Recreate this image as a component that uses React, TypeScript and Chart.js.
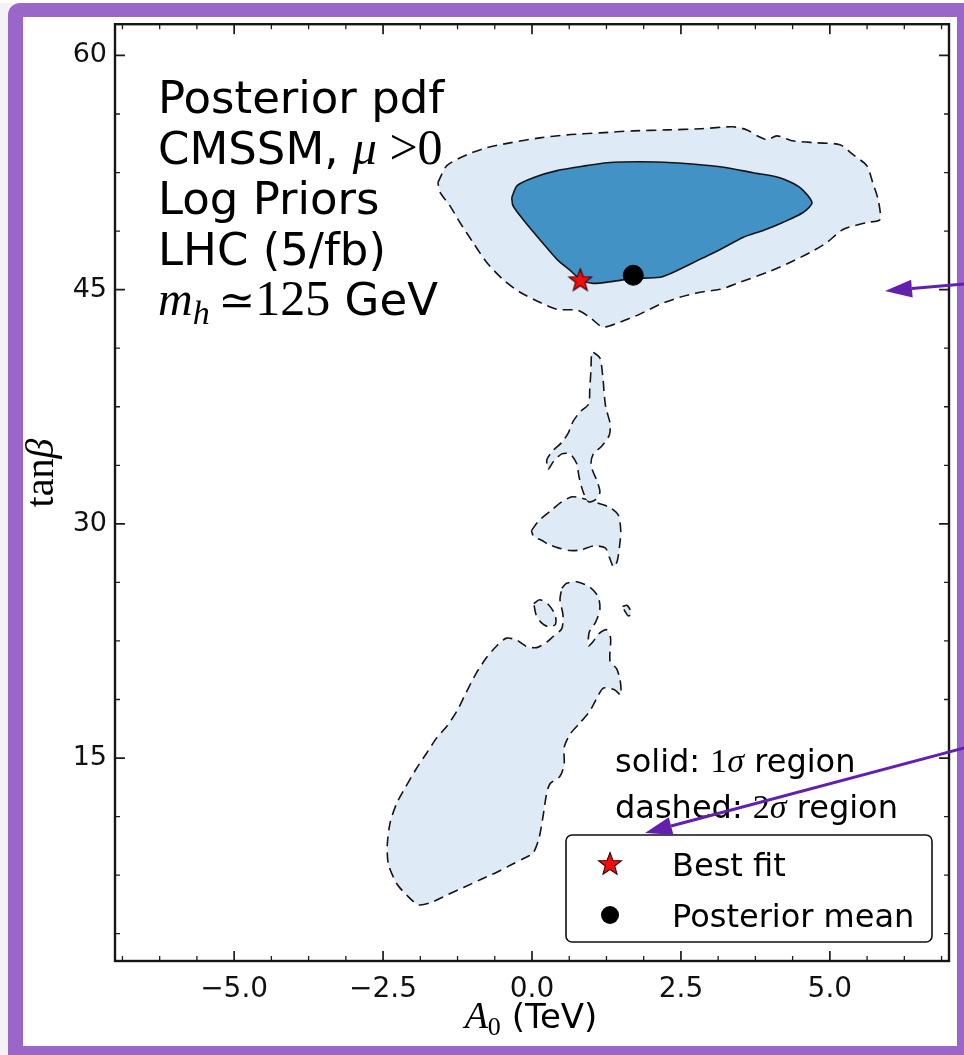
import React, { useEffect, useRef } from "react";
import { Chart, registerables } from "chart.js";

Chart.register(...registerables);

// ---------- axes ----------
const X_RANGE = [-7, 7];
const Y_RANGE = [2, 62];
const X_TICKS = [-5, -2.5, 0, 2.5, 5];
const X_MINOR = [-6.875, -6.25, -5.625, -4.375, -3.75, -3.125, -1.875, -1.25, -0.625, 0.625, 1.25, 1.875, 3.125, 3.75, 4.375, 5.625, 6.25, 6.875];
const Y_TICKS = [15, 30, 45, 60];
const Y_MINOR = [3.75, 7.5, 11.25, 18.75, 22.5, 26.25, 33.75, 37.5, 41.25, 48.75, 52.5, 56.25];

// ---------- contours (A0 [TeV], tan beta) ----------
// 2 sigma region, high tan beta mode
const OUTER_TOP: [number, number][] = [
  [-1.58, 51.85], [-1.43, 52.94], [-1.09, 53.64], [-0.76, 54.09], [-0.37, 54.4], [0.13, 54.72],
  [0.59, 54.91], [1.14, 55.04], [1.7, 55.17], [2.27, 55.23], [2.82, 55.3], [3.37, 55.43],
  [3.61, 55.23], [3.78, 54.85], [3.95, 54.6], [4.11, 54.85], [4.38, 54.53], [4.78, 54.4],
  [5.17, 54.28], [5.39, 53.64], [5.62, 52.94], [5.72, 51.85], [5.81, 50.77], [5.84, 49.49],
  [5.62, 49.3], [5.22, 48.85], [4.95, 48.02], [4.67, 47.38], [4.33, 46.74], [3.95, 46.11],
  [3.49, 45.47], [3.16, 45.02], [2.82, 44.83], [2.48, 44.51], [2.15, 44.06], [1.81, 43.43],
  [1.48, 42.92], [1.19, 42.6], [0.97, 43.23], [0.76, 43.68], [0.42, 43.74], [0.13, 44.19],
  [-0.2, 44.83], [-0.49, 45.66], [-0.76, 46.74], [-0.99, 48.02], [-1.21, 49.3], [-1.38, 50.38],
  [-1.54, 51.21],
];
// 1 sigma region
const INNER_TOP: [number, number][] = [
  [-0.34, 50.89], [-0.25, 51.66], [0.02, 52.17], [0.42, 52.62], [0.92, 52.94], [1.26, 53.13],
  [1.81, 53.19], [2.37, 53.13], [2.82, 53.0], [3.27, 52.81], [3.71, 52.49], [4.16, 52.17],
  [4.5, 51.53], [4.7, 50.57], [4.55, 49.94], [4.21, 49.3], [3.88, 48.79], [3.54, 48.34],
  [3.16, 47.57], [2.82, 46.94], [2.48, 46.3], [2.15, 45.79], [1.7, 45.72], [1.36, 45.53],
  [1.02, 45.4], [0.81, 45.66], [0.64, 46.23], [0.42, 46.94], [0.13, 48.21], [-0.15, 49.49],
  [-0.32, 50.38],
];
// 2 sigma islands, lower tan beta
const OUTER_SLIVER: [number, number][] = [
  [1.03, 40.99], [1.14, 40.62], [1.19, 39.39], [1.21, 38.41], [1.24, 37.43], [1.31, 36.44],
  [1.3, 35.7], [1.17, 34.97], [1.03, 34.48], [0.99, 33.74], [1.09, 32.75], [1.14, 32.02],
  [1.06, 31.53], [0.95, 31.41], [0.86, 32.02], [0.79, 33.0], [0.75, 33.86], [0.64, 34.48],
  [0.5, 34.48], [0.36, 33.99], [0.27, 33.49], [0.25, 34.11], [0.36, 34.72], [0.5, 35.21],
  [0.61, 35.83], [0.69, 36.56], [0.81, 37.18], [0.95, 37.67], [0.97, 38.65], [0.99, 39.88],
  [1.0, 40.87],
];
const OUTER_BLOB: [number, number][] = [
  [-0.01, 29.56], [0.11, 30.18], [0.3, 30.79], [0.5, 31.41], [0.67, 31.73], [0.83, 31.65],
  [1.03, 31.41], [1.31, 31.04], [1.45, 30.55], [1.49, 29.56], [1.47, 28.58], [1.43, 27.6],
  [1.37, 27.23], [1.3, 27.84], [1.23, 28.46], [1.03, 28.58], [0.83, 28.33], [0.64, 28.29],
  [0.44, 28.46], [0.27, 28.7], [0.16, 28.95], [0.03, 29.19],
];
const OUTER_OVAL: [number, number][] = [
  [0.03, 24.89], [0.13, 25.14], [0.27, 24.85], [0.39, 24.16], [0.39, 23.54], [0.27, 23.42],
  [0.16, 23.66], [0.07, 24.16],
];
const OUTER_TINY: [number, number][] = [
  [1.52, 24.7], [1.6, 24.77], [1.67, 24.28], [1.62, 24.1], [1.56, 24.4],
];
const OUTER_SOUTH: [number, number][] = [
  [0.5, 25.87], [0.58, 26.19], [0.75, 26.29], [0.97, 25.95], [1.11, 25.34], [1.14, 24.53],
  [1.07, 23.72], [0.96, 23.05], [0.95, 22.19], [1.03, 22.48], [1.11, 22.92], [1.25, 23.22],
  [1.32, 22.68], [1.31, 21.21], [1.42, 20.72], [1.48, 19.98], [1.49, 19.04], [1.39, 19.36],
  [1.2, 19.49], [1.11, 18.99], [0.97, 18.01], [0.81, 17.27], [0.64, 16.53], [0.54, 15.68],
  [0.54, 14.58], [0.47, 13.83], [0.3, 13.34], [0.24, 12.6], [0.19, 11.38], [0.12, 9.9],
  [0.02, 8.92], [-0.15, 8.55], [-0.34, 8.18], [-0.59, 7.69], [-0.87, 7.2], [-1.15, 6.71],
  [-1.43, 6.22], [-1.71, 5.72], [-1.91, 5.6], [-2.1, 6.21], [-2.27, 6.95], [-2.41, 8.18],
  [-2.43, 9.41], [-2.38, 10.89], [-2.27, 12.11], [-2.13, 13.09], [-1.94, 14.33], [-1.77, 15.31],
  [-1.6, 16.29], [-1.43, 17.03], [-1.26, 18.01], [-1.1, 19.24], [-0.93, 20.47], [-0.76, 21.45],
  [-0.59, 22.19], [-0.43, 22.68], [-0.26, 22.56], [-0.09, 22.14], [0.08, 22.07], [0.25, 22.43],
  [0.36, 22.8], [0.5, 23.29], [0.52, 24.16], [0.47, 25.14],
];

const BEST_FIT: [number, number] = [0.81, 45.6];
const POSTERIOR_MEAN: [number, number] = [1.7, 45.92];

const INFO_LINES = ["Posterior pdf", "CMSSM, ", "Log Priors", "LHC (5/fb)", ""];
const LEGEND_LABELS = ["Best fit", "Posterior mean"];

// ---------- styles ----------
const PURPLE = "#9a66ca";
const ARROW = "#6320ad";
const LIGHT = "#deebf7";
const MID = "#4292c6";
const SANS = '"DejaVu Sans", sans-serif';
const SERIF = '"Liberation Serif", "DejaVu Serif", serif';

type Run = { t: string; f: string; dy?: number };

function drawRuns(ctx: CanvasRenderingContext2D, x: number, y: number, runs: Run[], align: "left" | "center" = "left") {
  let w = 0;
  for (const r of runs) {
    ctx.font = r.f;
    w += ctx.measureText(r.t).width;
  }
  let cx = align === "center" ? x - w / 2 : x;
  for (const r of runs) {
    ctx.font = r.f;
    ctx.fillText(r.t, cx, y + (r.dy || 0));
    cx += ctx.measureText(r.t).width;
  }
}

function makeStar(size: number, outer: number, inner: number) {
  const c = document.createElement("canvas");
  c.width = size;
  c.height = size;
  const g = c.getContext("2d")!;
  g.beginPath();
  for (let i = 0; i < 10; i++) {
    const r = i % 2 === 0 ? outer : inner;
    const a = -Math.PI / 2 + (i * Math.PI) / 5;
    const px = size / 2 + r * Math.cos(a);
    const py = size / 2 + 0.5 + r * Math.sin(a);
    if (i === 0) g.moveTo(px, py);
    else g.lineTo(px, py);
  }
  g.closePath();
  g.fillStyle = "#f20d0d";
  g.fill();
  g.lineWidth = 1.1;
  g.strokeStyle = "#3a0000";
  g.stroke();
  return c;
}

function arrow(ctx: CanvasRenderingContext2D, x0: number, y0: number, x1: number, y1: number) {
  const ang = Math.atan2(y1 - y0, x1 - x0);
  const hl = 27, hw = 9;
  const bx = x1 - hl * Math.cos(ang), by = y1 - hl * Math.sin(ang);
  ctx.strokeStyle = ARROW;
  ctx.fillStyle = ARROW;
  ctx.lineWidth = 3;
  ctx.beginPath();
  ctx.moveTo(x0, y0);
  ctx.lineTo(bx, by);
  ctx.stroke();
  ctx.beginPath();
  ctx.moveTo(x1, y1);
  ctx.lineTo(bx + hw * Math.sin(ang), by - hw * Math.cos(ang));
  ctx.lineTo(bx - hw * Math.sin(ang), by + hw * Math.cos(ang));
  ctx.closePath();
  ctx.fill();
}

const closed = (a: [number, number][]) => [...a, a[0]].map(([x, y]) => ({ x, y }));

export default function App() {
  const ref = useRef<HTMLCanvasElement>(null);

  useEffect(() => {
    const canvas = ref.current!;
    const star = makeStar(28, 12, 5);

    const region = (label: string, arr: [number, number][], dashed: boolean) => ({
      label,
      data: closed(arr),
      showLine: true,
      fill: "shape",
      backgroundColor: dashed ? LIGHT : MID,
      borderColor: "#151515",
      borderWidth: 1.6,
      borderDash: dashed ? [10, 6] : [],
      pointRadius: 0,
      pointHoverRadius: 0,
      tension: 0.25,
      order: dashed ? 30 : 20,
    });

    const deco = {
      id: "deco",
      beforeDraw(chart: any) {
        const ctx = chart.ctx as CanvasRenderingContext2D;
        ctx.save();
        ctx.fillStyle = "#f3f3f5";
        ctx.fillRect(0, 0, 964, 1055);
        ctx.fillStyle = "#ffffff";
        ctx.fillRect(0, 0, 964, 3);
        ctx.fillStyle = PURPLE;
        ctx.beginPath();
        (ctx as any).roundRect(8, 3, 990, 1080, 12);
        ctx.fill();
        ctx.fillStyle = "#ffffff";
        ctx.fillRect(23, 17, 957 - 23, 1046 - 17);
        ctx.restore();
      },
      afterDraw(chart: any) {
        const ctx = chart.ctx as CanvasRenderingContext2D;
        const a = chart.chartArea;
        const xs = chart.scales.x;
        const ys = chart.scales.y;
        ctx.save();
        // ticks, inward on all four sides
        ctx.strokeStyle = "#1c1c1c";
        const tick = (vals: number[], len: number, lw: number) => {
          ctx.lineWidth = lw;
          ctx.beginPath();
          for (const v of vals) {
            const p = xs.getPixelForValue(v);
            ctx.moveTo(p, a.bottom);
            ctx.lineTo(p, a.bottom - len);
            ctx.moveTo(p, a.top);
            ctx.lineTo(p, a.top + len);
          }
          ctx.stroke();
        };
        const tickY = (vals: number[], len: number, lw: number) => {
          ctx.lineWidth = lw;
          ctx.beginPath();
          for (const v of vals) {
            const p = ys.getPixelForValue(v);
            ctx.moveTo(a.left, p);
            ctx.lineTo(a.left + len, p);
            ctx.moveTo(a.right, p);
            ctx.lineTo(a.right - len, p);
          }
          ctx.stroke();
        };
        tick(X_TICKS, 10, 1.7);
        tick(X_MINOR, 5, 1.3);
        tickY(Y_TICKS, 10, 1.7);
        tickY(Y_MINOR, 5, 1.3);
        ctx.lineWidth = 2.4;
        ctx.strokeStyle = "#161616";
        ctx.strokeRect(a.left, a.top, a.right - a.left, a.bottom - a.top);

        ctx.fillStyle = "#000";
        ctx.textBaseline = "alphabetic";
        ctx.textAlign = "left";

        // info block
        const S = `45px ${SANS}`;
        const M = `50px ${SERIF}`;
        const MI = `italic 48px ${SERIF}`;
        const tx = 158;
        const base = [113, 163.5, 214, 264.5, 315];
        drawRuns(ctx, tx, base[0], [{ t: INFO_LINES[0], f: S }]);
        drawRuns(ctx, tx, base[1], [
          { t: INFO_LINES[1], f: S },
          { t: "\u03bc", f: MI },
          { t: " >", f: M },
          { t: "0", f: M },
        ]);
        drawRuns(ctx, tx, base[2], [{ t: INFO_LINES[2], f: S }]);
        drawRuns(ctx, tx, base[3], [{ t: INFO_LINES[3], f: S }]);
        drawRuns(ctx, tx, base[4], [
          { t: "m", f: MI },
          { t: "h", f: `italic 34px ${SERIF}`, dy: 9 },
          { t: "\u2009\u2243", f: `44px "DejaVu Serif", serif` },
          { t: "125", f: M },
          { t: " GeV", f: S },
        ]);

        // sigma notes
        const N = `32px ${SANS}`;
        drawRuns(ctx, 615, 772, [
          { t: "solid: ", f: N },
          { t: "1", f: `34px ${SERIF}` },
          { t: "\u03c3", f: `italic 34px ${SERIF}` },
          { t: " region", f: N },
        ]);
        drawRuns(ctx, 615, 818, [
          { t: "dashed: ", f: N },
          { t: "2", f: `34px ${SERIF}` },
          { t: "\u03c3", f: `italic 34px ${SERIF}` },
          { t: " region", f: N },
        ]);

        // legend
        ctx.beginPath();
        (ctx as any).roundRect(566, 835, 366, 107, 6);
        ctx.fillStyle = "#fff";
        ctx.fill();
        ctx.lineWidth = 1.6;
        ctx.strokeStyle = "#111";
        ctx.stroke();
        ctx.drawImage(star, 610 - 14, 864 - 14);
        ctx.fillStyle = "#000";
        ctx.beginPath();
        ctx.arc(610, 915, 9, 0, Math.PI * 2);
        ctx.fill();
        ctx.font = N;
        ctx.fillText(LEGEND_LABELS[0], 672, 876);
        ctx.fillText(LEGEND_LABELS[1], 672, 927);

        // axis titles
        drawRuns(
          ctx,
          531,
          1028,
          [
            { t: "A", f: `italic 38px ${SERIF}` },
            { t: "0", f: `26px ${SERIF}`, dy: 7 },
            { t: " (TeV)", f: `34px ${SANS}` },
          ],
          "center"
        );
        ctx.save();
        ctx.translate(53, 473);
        ctx.rotate(-Math.PI / 2);
        drawRuns(
          ctx,
          0,
          0,
          [
            { t: "tan", f: `40px ${SERIF}` },
            { t: "\u03b2", f: `italic 40px ${SERIF}` },
          ],
          "center"
        );
        ctx.restore();

        // annotation arrows
        arrow(ctx, 975, 283, 885, 291);
        arrow(ctx, 975, 745, 645, 833);
        ctx.restore();
      },
    };

    const chart = new Chart(canvas, {
      type: "scatter",
      data: {
        datasets: [
          region("2σ south", OUTER_SOUTH, true),
          region("2σ sliver", OUTER_SLIVER, true),
          region("2σ blob", OUTER_BLOB, true),
          region("2σ oval", OUTER_OVAL, true),
          region("2σ tiny", OUTER_TINY, true),
          region("2σ top", OUTER_TOP, true),
          region("1σ top", INNER_TOP, false),
          {
            label: LEGEND_LABELS[0],
            data: [{ x: BEST_FIT[0], y: BEST_FIT[1] }],
            pointStyle: star,
            pointRadius: 12,
            order: 2,
          },
          {
            label: LEGEND_LABELS[1],
            data: [{ x: POSTERIOR_MEAN[0], y: POSTERIOR_MEAN[1] }],
            pointStyle: "circle",
            pointRadius: 10,
            backgroundColor: "#000",
            borderColor: "#000",
            order: 1,
          },
        ] as any,
      },
      options: {
        responsive: false,
        animation: false,
        devicePixelRatio: 1,
        events: [],
        layout: { padding: { left: 25, right: 15, top: 21, bottom: 34 } },
        plugins: { legend: { display: false }, tooltip: { enabled: false }, title: { display: false } },
        scales: {
          x: {
            type: "linear",
            min: X_RANGE[0],
            max: X_RANGE[1],
            grid: { display: false, drawTicks: false },
            border: { display: false },
            afterFit: (s: any) => {
              s.height = 60;
            },
            afterBuildTicks: (s: any) => {
              s.ticks = X_TICKS.map((v) => ({ value: v }));
            },
            ticks: {
              autoSkip: false,
              maxRotation: 0,
              padding: 12,
              color: "#111",
              font: { family: "DejaVu Sans", size: 28 },
              callback: (v: any) => Number(v).toFixed(1).replace("-", "\u2212"),
            },
          },
          y: {
            type: "linear",
            min: Y_RANGE[0],
            max: Y_RANGE[1],
            grid: { display: false, drawTicks: false },
            border: { display: false },
            afterFit: (s: any) => {
              s.width = 90;
            },
            afterBuildTicks: (s: any) => {
              s.ticks = Y_TICKS.map((v) => ({ value: v }));
            },
            ticks: {
              autoSkip: false,
              padding: 8,
              color: "#111",
              font: { family: "DejaVu Sans", size: 27 },
              callback: (v: any) => String(v),
            },
          },
        },
      } as any,
      plugins: [deco],
    });
    return () => chart.destroy();
  }, []);

  return (
    <div style={{ position: "fixed", left: 0, top: 0, width: 964, height: 1055 }}>
      <canvas ref={ref} width={964} height={1055} style={{ display: "block" }} />
    </div>
  );
}
